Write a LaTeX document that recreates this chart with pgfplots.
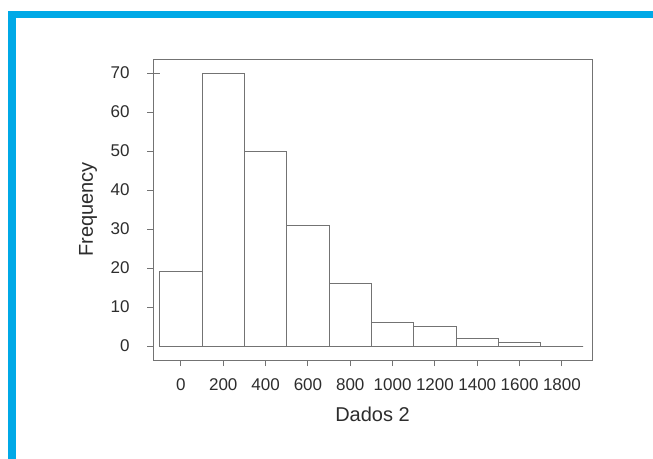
\documentclass[border=0pt]{standalone}
\usepackage{pgfplots}
\pgfplotsset{compat=1.18}
\usepackage{fontspec}
\setmainfont{Liberation Sans}
\definecolor{frameblue}{RGB}{0,169,231}
\definecolor{linegray}{RGB}{115,115,115}
\definecolor{txtgray}{RGB}{45,45,45}
\begin{document}
\begin{tikzpicture}
\useasboundingbox (0,0) rectangle (653bp,459bp);
\fill[white] (0,0) rectangle (653bp,459bp);
\fill[frameblue] (8bp,441bp) rectangle (653bp,448bp);
\fill[frameblue] (8bp,0bp) rectangle (16bp,448bp);
\begin{axis}[
  at={(153bp,99bp)}, anchor=south west,
  scale only axis, width=439bp, height=301bp,
  xmin=-132, xmax=1942, ymin=-3.6, ymax=73.6,
  axis line style={linegray, line width=0.9pt},
  xtick={0,200,...,1800}, ytick={0,10,...,70},
  tick align=outside,
  xtick pos=bottom, ytick pos=left,
  major tick length=6bp,
  ytick style={shorten >=-7bp},
  tick style={linegray, line width=0.9pt},
  /pgf/number format/assume math mode=true,
  /pgf/number format/1000 sep={},
  ticklabel style={font=\fontsize{17bp}{19bp}\selectfont, text=txtgray},
  yticklabel style={xshift=-14bp},
  xticklabel style={yshift=-9bp},
  label style={font=\fontsize{20bp}{22bp}\selectfont, text=txtgray},
  xlabel={Dados 2}, ylabel={Frequency},
  xlabel style={at={(axis description cs:0.5,-0.179)}, anchor=center},
  ylabel style={at={(axis description cs:-0.148,0.5)}, anchor=center},
]
\addplot[ybar interval, draw=linegray, line width=0.9pt, fill=white] coordinates {
  (-100,19) (100,70) (300,50) (500,31) (700,16) (900,6) (1100,5) (1300,2) (1500,1) (1700,0) (1900,0)
};
\end{axis}
\end{tikzpicture}
\end{document}
